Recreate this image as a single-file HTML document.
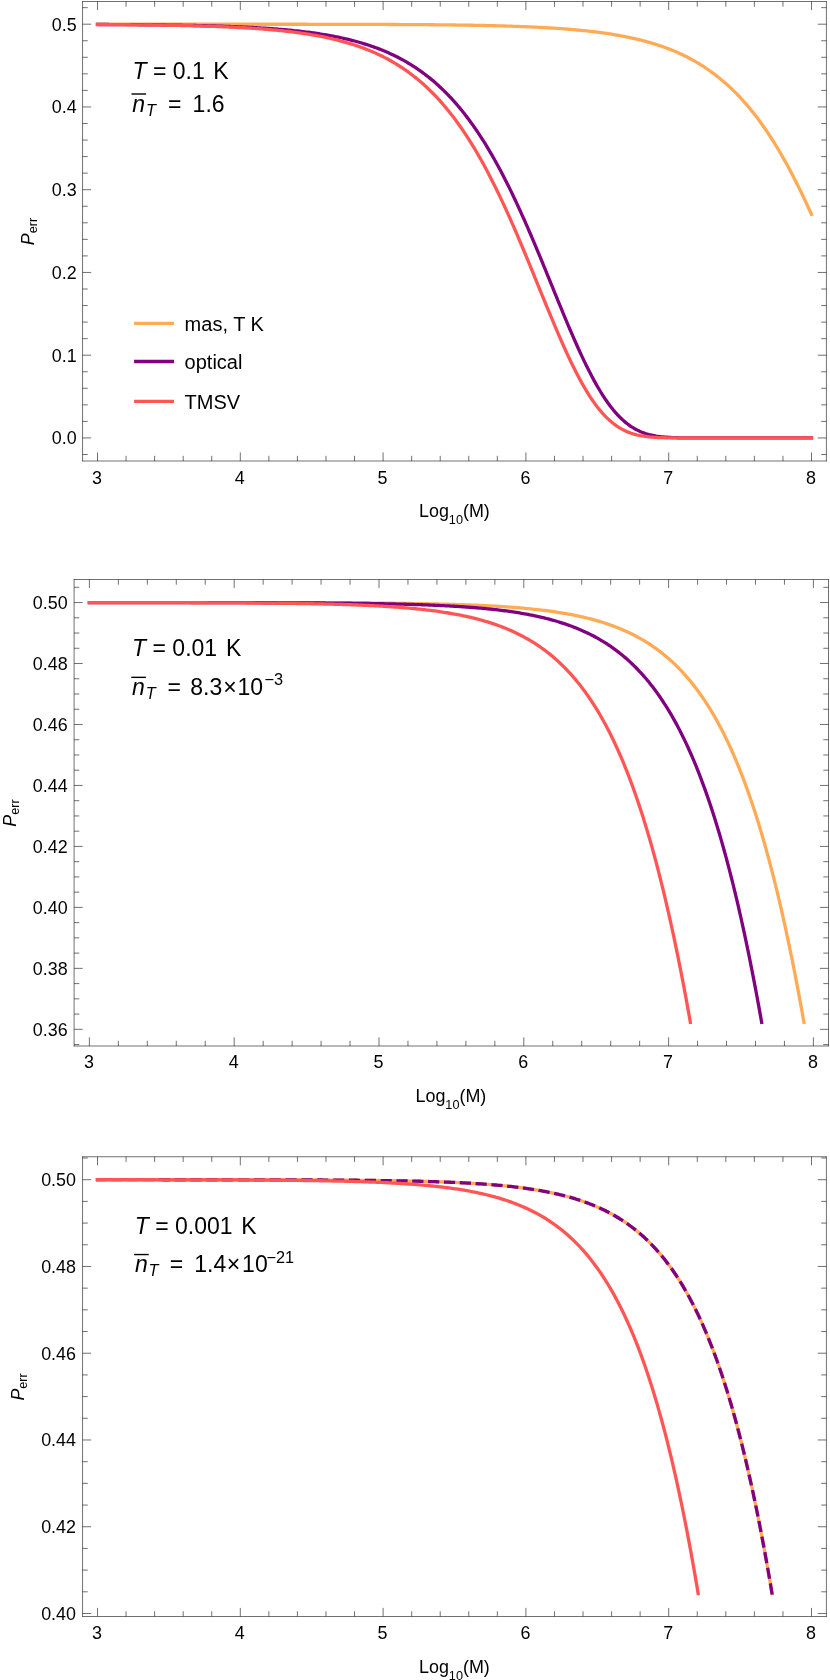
<!DOCTYPE html>
<html><head><meta charset="utf-8"><title>P_err vs Log10(M)</title>
<style>
html,body{margin:0;padding:0;background:#fff;}
svg{display:block;will-change:transform;}
text{font-family:"Liberation Sans",sans-serif;fill:#000;}
</style></head><body>
<svg width="830" height="1680" viewBox="0 0 830 1680">
<rect width="830" height="1680" fill="#fff"/>
<g>
<path d="M97.5 24.2L99.29 24.2L101.07 24.2L102.86 24.2L104.64 24.2L106.42 24.2L108.21 24.2L109.99 24.2L111.78 24.2L113.56 24.2L115.35 24.2L117.14 24.2L118.92 24.2L120.71 24.2L122.49 24.2L124.28 24.2L126.06 24.2L127.84 24.2L129.63 24.2L131.41 24.2L133.2 24.2L134.99 24.2L136.77 24.2L138.56 24.2L140.34 24.21L142.12 24.21L143.91 24.21L145.69 24.21L147.48 24.21L149.26 24.21L151.05 24.21L152.84 24.21L154.62 24.21L156.41 24.21L158.19 24.21L159.98 24.21L161.76 24.21L163.54 24.21L165.33 24.21L167.11 24.21L168.9 24.21L170.69 24.21L172.47 24.21L174.26 24.21L176.04 24.21L177.82 24.21L179.61 24.21L181.39 24.21L183.18 24.21L184.96 24.21L186.75 24.21L188.54 24.21L190.32 24.21L192.11 24.21L193.89 24.21L195.68 24.21L197.46 24.21L199.25 24.21L201.03 24.21L202.81 24.21L204.6 24.21L206.39 24.21L208.17 24.22L209.96 24.22L211.74 24.22L213.53 24.22L215.31 24.22L217.09 24.22L218.88 24.22L220.66 24.22L222.45 24.22L224.24 24.22L226.02 24.22L227.81 24.22L229.59 24.22L231.38 24.22L233.16 24.22L234.94 24.22L236.73 24.22L238.51 24.22L240.3 24.23L242.09 24.23L243.87 24.23L245.65 24.23L247.44 24.23L249.23 24.23L251.01 24.23L252.8 24.23L254.58 24.23L256.37 24.23L258.15 24.23L259.94 24.23L261.72 24.24L263.5 24.24L265.29 24.24L267.08 24.24L268.86 24.24L270.65 24.24L272.43 24.24L274.21 24.24L276 24.25L277.79 24.25L279.57 24.25L281.35 24.25L283.14 24.25L284.93 24.25L286.71 24.25L288.5 24.26L290.28 24.26L292.06 24.26L293.85 24.26L295.64 24.26L297.42 24.26L299.2 24.27L300.99 24.27L302.77 24.27L304.56 24.27L306.35 24.27L308.13 24.28L309.91 24.28L311.7 24.28L313.49 24.28L315.27 24.29L317.05 24.29L318.84 24.29L320.62 24.29L322.41 24.3L324.2 24.3L325.98 24.3L327.76 24.3L329.55 24.31L331.34 24.31L333.12 24.31L334.9 24.32L336.69 24.32L338.48 24.32L340.26 24.33L342.05 24.33L343.83 24.34L345.62 24.34L347.4 24.34L349.19 24.35L350.97 24.35L352.75 24.36L354.54 24.36L356.33 24.37L358.11 24.37L359.9 24.38L361.68 24.38L363.46 24.39L365.25 24.39L367.04 24.4L368.82 24.4L370.6 24.41L372.39 24.41L374.18 24.42L375.96 24.43L377.75 24.43L379.53 24.44L381.31 24.45L383.1 24.45L384.89 24.46L386.67 24.47L388.45 24.48L390.24 24.49L392.03 24.49L393.81 24.5L395.6 24.51L397.38 24.52L399.17 24.53L400.95 24.54L402.74 24.55L404.52 24.56L406.3 24.57L408.09 24.58L409.88 24.59L411.66 24.6L413.45 24.62L415.23 24.63L417.01 24.64L418.8 24.65L420.59 24.67L422.37 24.68L424.15 24.69L425.94 24.71L427.73 24.72L429.51 24.74L431.3 24.75L433.08 24.77L434.87 24.79L436.65 24.8L438.44 24.82L440.22 24.84L442 24.86L443.79 24.88L445.58 24.9L447.36 24.92L449.15 24.94L450.93 24.96L452.71 24.98L454.5 25L456.29 25.03L458.07 25.05L459.85 25.08L461.64 25.1L463.43 25.13L465.21 25.16L467 25.18L468.78 25.21L470.56 25.24L472.35 25.27L474.14 25.3L475.92 25.34L477.7 25.37L479.49 25.4L481.28 25.44L483.06 25.47L484.85 25.51L486.63 25.55L488.42 25.59L490.2 25.63L491.99 25.67L493.77 25.71L495.56 25.76L497.34 25.8L499.13 25.85L500.91 25.9L502.7 25.95L504.48 26L506.26 26.05L508.05 26.11L509.84 26.16L511.62 26.22L513.4 26.28L515.19 26.34L516.98 26.4L518.76 26.46L520.55 26.53L522.33 26.6L524.12 26.67L525.9 26.74L527.69 26.81L529.47 26.89L531.25 26.97L533.04 27.05L534.83 27.13L536.61 27.22L538.4 27.3L540.18 27.4L541.97 27.49L543.75 27.58L545.54 27.68L547.32 27.78L549.11 27.89L550.89 27.99L552.67 28.1L554.46 28.22L556.25 28.34L558.03 28.46L559.82 28.58L561.6 28.71L563.38 28.84L565.17 28.97L566.95 29.11L568.74 29.25L570.53 29.4L572.31 29.55L574.1 29.71L575.88 29.86L577.66 30.03L579.45 30.2L581.24 30.37L583.02 30.55L584.81 30.73L586.59 30.92L588.38 31.12L590.16 31.32L591.95 31.52L593.73 31.74L595.51 31.95L597.3 32.18L599.09 32.41L600.87 32.65L602.65 32.89L604.44 33.14L606.23 33.4L608.01 33.67L609.8 33.94L611.58 34.22L613.37 34.51L615.15 34.81L616.94 35.11L618.72 35.43L620.5 35.75L622.29 36.08L624.08 36.42L625.86 36.77L627.65 37.14L629.43 37.51L631.22 37.89L633 38.28L634.79 38.69L636.57 39.1L638.36 39.53L640.14 39.97L641.93 40.42L643.71 40.88L645.5 41.36L647.28 41.85L649.07 42.35L650.85 42.87L652.64 43.4L654.42 43.95L656.21 44.51L657.99 45.09L659.78 45.69L661.56 46.3L663.35 46.92L665.13 47.57L666.91 48.23L668.7 48.91L670.49 49.61L672.27 50.33L674.05 51.06L675.84 51.82L677.62 52.6L679.41 53.4L681.2 54.22L682.98 55.06L684.76 55.93L686.55 56.82L688.34 57.73L690.12 58.67L691.9 59.63L693.69 60.62L695.48 61.63L697.26 62.67L699.05 63.74L700.83 64.84L702.62 65.96L704.4 67.12L706.19 68.3L707.97 69.51L709.75 70.76L711.54 72.04L713.33 73.35L715.11 74.69L716.9 76.07L718.68 77.48L720.47 78.93L722.25 80.42L724.04 81.94L725.82 83.5L727.61 85.09L729.39 86.73L731.18 88.41L732.96 90.12L734.75 91.88L736.53 93.68L738.32 95.52L740.1 97.41L741.89 99.34L743.67 101.32L745.46 103.34L747.24 105.41L749.03 107.52L750.81 109.68L752.6 111.9L754.38 114.16L756.17 116.47L757.95 118.83L759.74 121.24L761.52 123.7L763.3 126.21L765.09 128.78L766.88 131.4L768.66 134.07L770.45 136.8L772.23 139.58L774.01 142.41L775.8 145.3L777.59 148.25L779.37 151.25L781.15 154.3L782.94 157.41L784.73 160.57L786.51 163.79L788.3 167.07L790.08 170.4L791.87 173.78L793.65 177.22L795.44 180.71L797.22 184.26L799 187.86L800.79 191.51L802.58 195.21L804.36 198.96L806.15 202.76L807.93 206.61L809.72 210.5L811.5 214.44" fill="none" stroke="#FFAA55" stroke-width="3.3" stroke-linecap="square" stroke-linejoin="round"/>
<path d="M97.5 24.47L99.29 24.48L101.07 24.49L102.86 24.5L104.64 24.51L106.42 24.51L108.21 24.52L109.99 24.53L111.78 24.54L113.56 24.55L115.35 24.56L117.14 24.57L118.92 24.58L120.71 24.6L122.49 24.61L124.28 24.62L126.06 24.63L127.84 24.64L129.63 24.66L131.41 24.67L133.2 24.68L134.99 24.7L136.77 24.71L138.56 24.73L140.34 24.74L142.12 24.76L143.91 24.77L145.69 24.79L147.48 24.81L149.26 24.83L151.05 24.84L152.84 24.86L154.62 24.88L156.41 24.9L158.19 24.92L159.98 24.94L161.76 24.97L163.54 24.99L165.33 25.01L167.11 25.04L168.9 25.06L170.69 25.08L172.47 25.11L174.26 25.14L176.04 25.16L177.82 25.19L179.61 25.22L181.39 25.25L183.18 25.28L184.96 25.31L186.75 25.35L188.54 25.38L190.32 25.41L192.11 25.45L193.89 25.49L195.68 25.52L197.46 25.56L199.25 25.6L201.03 25.64L202.81 25.68L204.6 25.73L206.39 25.77L208.17 25.82L209.96 25.86L211.74 25.91L213.53 25.96L215.31 26.01L217.09 26.07L218.88 26.12L220.66 26.18L222.45 26.24L224.24 26.29L226.02 26.36L227.81 26.42L229.59 26.48L231.38 26.55L233.16 26.62L234.94 26.69L236.73 26.76L238.51 26.84L240.3 26.91L242.09 26.99L243.87 27.07L245.65 27.16L247.44 27.24L249.23 27.33L251.01 27.42L252.8 27.51L254.58 27.61L256.37 27.71L258.15 27.81L259.94 27.92L261.72 28.03L263.5 28.14L265.29 28.25L267.08 28.37L268.86 28.49L270.65 28.61L272.43 28.74L274.21 28.87L276 29.01L277.79 29.15L279.57 29.29L281.35 29.44L283.14 29.59L284.93 29.75L286.71 29.91L288.5 30.08L290.28 30.25L292.06 30.42L293.85 30.6L295.64 30.79L297.42 30.98L299.2 31.17L300.99 31.38L302.77 31.58L304.56 31.8L306.35 32.02L308.13 32.24L309.91 32.48L311.7 32.72L313.49 32.96L315.27 33.21L317.05 33.47L318.84 33.74L320.62 34.02L322.41 34.3L324.2 34.59L325.98 34.89L327.76 35.2L329.55 35.52L331.34 35.84L333.12 36.18L334.9 36.52L336.69 36.88L338.48 37.24L340.26 37.61L342.05 38L343.83 38.4L345.62 38.8L347.4 39.22L349.19 39.65L350.97 40.09L352.75 40.55L354.54 41.02L356.33 41.5L358.11 41.99L359.9 42.5L361.68 43.02L363.46 43.56L365.25 44.11L367.04 44.68L368.82 45.26L370.6 45.86L372.39 46.47L374.18 47.1L375.96 47.75L377.75 48.42L379.53 49.11L381.31 49.81L383.1 50.53L384.89 51.28L386.67 52.04L388.45 52.82L390.24 53.63L392.03 54.46L393.81 55.31L395.6 56.18L397.38 57.07L399.17 57.99L400.95 58.94L402.74 59.91L404.52 60.9L406.3 61.92L408.09 62.97L409.88 64.05L411.66 65.15L413.45 66.28L415.23 67.45L417.01 68.64L418.8 69.86L420.59 71.12L422.37 72.4L424.15 73.72L425.94 75.08L427.73 76.46L429.51 77.89L431.3 79.35L433.08 80.84L434.87 82.37L436.65 83.94L438.44 85.55L440.22 87.2L442 88.89L443.79 90.61L445.58 92.38L447.36 94.2L449.15 96.05L450.93 97.95L452.71 99.89L454.5 101.88L456.29 103.92L458.07 106L459.85 108.13L461.64 110.3L463.43 112.53L465.21 114.8L467 117.13L468.78 119.5L470.56 121.92L472.35 124.4L474.14 126.93L475.92 129.51L477.7 132.15L479.49 134.83L481.28 137.57L483.06 140.37L484.85 143.22L486.63 146.13L488.42 149.09L490.2 152.1L491.99 155.17L493.77 158.3L495.56 161.48L497.34 164.71L499.13 168L500.91 171.35L502.7 174.75L504.48 178.2L506.26 181.71L508.05 185.27L509.84 188.88L511.62 192.54L513.4 196.26L515.19 200.02L516.98 203.84L518.76 207.7L520.55 211.6L522.33 215.56L524.12 219.55L525.9 223.59L527.69 227.67L529.47 231.78L531.25 235.93L533.04 240.12L534.83 244.33L536.61 248.58L538.4 252.85L540.18 257.15L541.97 261.47L543.75 265.8L545.54 270.16L547.32 274.52L549.11 278.89L550.89 283.27L552.67 287.65L554.46 292.03L556.25 296.41L558.03 300.77L559.82 305.12L561.6 309.46L563.38 313.77L565.17 318.06L566.95 322.32L568.74 326.54L570.53 330.73L572.31 334.88L574.1 338.98L575.88 343.03L577.66 347.02L579.45 350.96L581.24 354.83L583.02 358.63L584.81 362.37L586.59 366.03L588.38 369.61L590.16 373.11L591.95 376.53L593.73 379.86L595.51 383.09L597.3 386.23L599.09 389.28L600.87 392.23L602.65 395.08L604.44 397.82L606.23 400.47L608.01 403.01L609.8 405.44L611.58 407.77L613.37 409.99L615.15 412.1L616.94 414.11L618.72 416.02L620.5 417.82L622.29 419.52L624.08 421.12L625.86 422.63L627.65 424.03L629.43 425.34L631.22 426.57L633 427.7L634.79 428.75L636.57 429.72L638.36 430.61L640.14 431.42L641.93 432.17L643.71 432.84L645.5 433.46L647.28 434.02L649.07 434.52L650.85 434.96L652.64 435.36L654.42 435.72L656.21 436.04L657.99 436.31L659.78 436.56L661.56 436.77L663.35 436.96L665.13 437.12L666.91 437.26L668.7 437.37L670.49 437.47L672.27 437.56L674.05 437.63L675.84 437.69L677.62 437.74L679.41 437.78L681.2 437.82L682.98 437.84L684.76 437.87L686.55 437.89L688.34 437.9L690.12 437.91L691.9 437.92L693.69 437.93L695.48 437.93L697.26 437.94L699.05 437.94L700.83 437.94L702.62 437.95L704.4 437.95L706.19 437.95L707.97 437.95L709.75 437.95L711.54 437.95L713.33 437.95L715.11 437.95L716.9 437.95L718.68 437.95L720.47 437.95L722.25 437.95L724.04 437.95L725.82 437.95L727.61 437.95L729.39 437.95L731.18 437.95L732.96 437.95L734.75 437.95L736.53 437.95L738.32 437.95L740.1 437.95L741.89 437.95L743.67 437.95L745.46 437.95L747.24 437.95L749.03 437.95L750.81 437.95L752.6 437.95L754.38 437.95L756.17 437.95L757.95 437.95L759.74 437.95L761.52 437.95L763.3 437.95L765.09 437.95L766.88 437.95L768.66 437.95L770.45 437.95L772.23 437.95L774.01 437.95L775.8 437.95L777.59 437.95L779.37 437.95L781.15 437.95L782.94 437.95L784.73 437.95L786.51 437.95L788.3 437.95L790.08 437.95L791.87 437.95L793.65 437.95L795.44 437.95L797.22 437.95L799 437.95L800.79 437.95L802.58 437.95L804.36 437.95L806.15 437.95L807.93 437.95L809.72 437.95L811.5 437.95" fill="none" stroke="#800080" stroke-width="3.3" stroke-linecap="square" stroke-linejoin="round"/>
<path d="M97.5 24.54L99.29 24.55L101.07 24.56L102.86 24.57L104.64 24.58L106.42 24.59L108.21 24.6L109.99 24.61L111.78 24.63L113.56 24.64L115.35 24.65L117.14 24.66L118.92 24.68L120.71 24.69L122.49 24.71L124.28 24.72L126.06 24.74L127.84 24.75L129.63 24.77L131.41 24.79L133.2 24.8L134.99 24.82L136.77 24.84L138.56 24.86L140.34 24.88L142.12 24.9L143.91 24.92L145.69 24.94L147.48 24.96L149.26 24.98L151.05 25L152.84 25.03L154.62 25.05L156.41 25.08L158.19 25.1L159.98 25.13L161.76 25.15L163.54 25.18L165.33 25.21L167.11 25.24L168.9 25.27L170.69 25.3L172.47 25.33L174.26 25.37L176.04 25.4L177.82 25.44L179.61 25.47L181.39 25.51L183.18 25.55L184.96 25.59L186.75 25.63L188.54 25.67L190.32 25.71L192.11 25.75L193.89 25.8L195.68 25.85L197.46 25.89L199.25 25.94L201.03 26L202.81 26.05L204.6 26.1L206.39 26.16L208.17 26.21L209.96 26.27L211.74 26.33L213.53 26.39L215.31 26.46L217.09 26.52L218.88 26.59L220.66 26.66L222.45 26.73L224.24 26.81L226.02 26.88L227.81 26.96L229.59 27.04L231.38 27.12L233.16 27.21L234.94 27.3L236.73 27.39L238.51 27.48L240.3 27.57L242.09 27.67L243.87 27.77L245.65 27.88L247.44 27.98L249.23 28.09L251.01 28.21L252.8 28.32L254.58 28.44L256.37 28.57L258.15 28.69L259.94 28.82L261.72 28.96L263.5 29.1L265.29 29.24L267.08 29.39L268.86 29.54L270.65 29.69L272.43 29.85L274.21 30.01L276 30.18L277.79 30.36L279.57 30.53L281.35 30.72L283.14 30.91L284.93 31.1L286.71 31.3L288.5 31.51L290.28 31.72L292.06 31.93L293.85 32.16L295.64 32.39L297.42 32.62L299.2 32.87L300.99 33.12L302.77 33.38L304.56 33.64L306.35 33.91L308.13 34.19L309.91 34.48L311.7 34.78L313.49 35.08L315.27 35.4L317.05 35.72L318.84 36.05L320.62 36.39L322.41 36.74L324.2 37.1L325.98 37.47L327.76 37.85L329.55 38.25L331.34 38.65L333.12 39.06L334.9 39.49L336.69 39.93L338.48 40.38L340.26 40.84L342.05 41.32L343.83 41.8L345.62 42.31L347.4 42.82L349.19 43.35L350.97 43.9L352.75 44.46L354.54 45.04L356.33 45.63L358.11 46.24L359.9 46.86L361.68 47.51L363.46 48.17L365.25 48.85L367.04 49.54L368.82 50.26L370.6 51L372.39 51.75L374.18 52.53L375.96 53.33L377.75 54.14L379.53 54.99L381.31 55.85L383.1 56.74L384.89 57.65L386.67 58.58L388.45 59.54L390.24 60.53L392.03 61.54L393.81 62.58L395.6 63.64L397.38 64.73L399.17 65.86L400.95 67.01L402.74 68.19L404.52 69.4L406.3 70.64L408.09 71.92L409.88 73.23L411.66 74.57L413.45 75.94L415.23 77.35L417.01 78.8L418.8 80.28L420.59 81.79L422.37 83.35L424.15 84.94L425.94 86.58L427.73 88.25L429.51 89.96L431.3 91.72L433.08 93.51L434.87 95.35L436.65 97.23L438.44 99.16L440.22 101.13L442 103.15L443.79 105.21L445.58 107.32L447.36 109.48L449.15 111.69L450.93 113.94L452.71 116.25L454.5 118.61L456.29 121.01L458.07 123.47L459.85 125.98L461.64 128.54L463.43 131.15L465.21 133.82L467 136.54L468.78 139.32L470.56 142.15L472.35 145.03L474.14 147.97L475.92 150.97L477.7 154.01L479.49 157.12L481.28 160.28L483.06 163.49L484.85 166.76L486.63 170.09L488.42 173.47L490.2 176.9L491.99 180.39L493.77 183.93L495.56 187.52L497.34 191.17L499.13 194.86L500.91 198.61L502.7 202.4L504.48 206.25L506.26 210.14L508.05 214.07L509.84 218.05L511.62 222.07L513.4 226.14L515.19 230.24L516.98 234.37L518.76 238.55L520.55 242.75L522.33 246.99L524.12 251.25L525.9 255.54L527.69 259.85L529.47 264.18L531.25 268.53L533.04 272.89L534.83 277.26L536.61 281.63L538.4 286.01L540.18 290.39L541.97 294.77L543.75 299.14L545.54 303.5L547.32 307.84L549.11 312.16L550.89 316.46L552.67 320.73L554.46 324.97L556.25 329.17L558.03 333.33L559.82 337.45L561.6 341.52L563.38 345.53L565.17 349.49L566.95 353.39L568.74 357.22L570.53 360.98L572.31 364.67L574.1 368.28L575.88 371.81L577.66 375.26L579.45 378.62L581.24 381.89L583.02 385.07L584.81 388.15L586.59 391.14L588.38 394.02L590.16 396.81L591.95 399.49L593.73 402.07L595.51 404.54L597.3 406.91L599.09 409.17L600.87 411.32L602.65 413.37L604.44 415.32L606.23 417.16L608.01 418.9L609.8 420.54L611.58 422.07L613.37 423.52L615.15 424.86L616.94 426.12L618.72 427.29L620.5 428.37L622.29 429.36L624.08 430.28L625.86 431.13L627.65 431.9L629.43 432.6L631.22 433.24L633 433.81L634.79 434.33L636.57 434.8L638.36 435.22L640.14 435.59L641.93 435.92L643.71 436.21L645.5 436.47L647.28 436.69L649.07 436.89L650.85 437.06L652.64 437.21L654.42 437.33L656.21 437.44L657.99 437.53L659.78 437.61L661.56 437.67L663.35 437.72L665.13 437.77L666.91 437.81L668.7 437.84L670.49 437.86L672.27 437.88L674.05 437.9L675.84 437.91L677.62 437.92L679.41 437.93L681.2 437.93L682.98 437.94L684.76 437.94L686.55 437.94L688.34 437.94L690.12 437.95L691.9 437.95L693.69 437.95L695.48 437.95L697.26 437.95L699.05 437.95L700.83 437.95L702.62 437.95L704.4 437.95L706.19 437.95L707.97 437.95L709.75 437.95L711.54 437.95L713.33 437.95L715.11 437.95L716.9 437.95L718.68 437.95L720.47 437.95L722.25 437.95L724.04 437.95L725.82 437.95L727.61 437.95L729.39 437.95L731.18 437.95L732.96 437.95L734.75 437.95L736.53 437.95L738.32 437.95L740.1 437.95L741.89 437.95L743.67 437.95L745.46 437.95L747.24 437.95L749.03 437.95L750.81 437.95L752.6 437.95L754.38 437.95L756.17 437.95L757.95 437.95L759.74 437.95L761.52 437.95L763.3 437.95L765.09 437.95L766.88 437.95L768.66 437.95L770.45 437.95L772.23 437.95L774.01 437.95L775.8 437.95L777.59 437.95L779.37 437.95L781.15 437.95L782.94 437.95L784.73 437.95L786.51 437.95L788.3 437.95L790.08 437.95L791.87 437.95L793.65 437.95L795.44 437.95L797.22 437.95L799 437.95L800.79 437.95L802.58 437.95L804.36 437.95L806.15 437.95L807.93 437.95L809.72 437.95L811.5 437.95" fill="none" stroke="#FF5555" stroke-width="3.3" stroke-linecap="square" stroke-linejoin="round"/>
<path d="M82.25 1.5L826.7 1.5M82.25 461L826.7 461M82.55 1.2L82.55 461.3M826.4 1.2L826.4 461.3M97.5 461L97.5 452.4M97.5 1.5L97.5 10.1M126.06 461L126.06 455.8M126.06 1.5L126.06 6.7M154.62 461L154.62 455.8M154.62 1.5L154.62 6.7M183.18 461L183.18 455.8M183.18 1.5L183.18 6.7M211.74 461L211.74 455.8M211.74 1.5L211.74 6.7M240.3 461L240.3 452.4M240.3 1.5L240.3 10.1M268.86 461L268.86 455.8M268.86 1.5L268.86 6.7M297.42 461L297.42 455.8M297.42 1.5L297.42 6.7M325.98 461L325.98 455.8M325.98 1.5L325.98 6.7M354.54 461L354.54 455.8M354.54 1.5L354.54 6.7M383.1 461L383.1 452.4M383.1 1.5L383.1 10.1M411.66 461L411.66 455.8M411.66 1.5L411.66 6.7M440.22 461L440.22 455.8M440.22 1.5L440.22 6.7M468.78 461L468.78 455.8M468.78 1.5L468.78 6.7M497.34 461L497.34 455.8M497.34 1.5L497.34 6.7M525.9 461L525.9 452.4M525.9 1.5L525.9 10.1M554.46 461L554.46 455.8M554.46 1.5L554.46 6.7M583.02 461L583.02 455.8M583.02 1.5L583.02 6.7M611.58 461L611.58 455.8M611.58 1.5L611.58 6.7M640.14 461L640.14 455.8M640.14 1.5L640.14 6.7M668.7 461L668.7 452.4M668.7 1.5L668.7 10.1M697.26 461L697.26 455.8M697.26 1.5L697.26 6.7M725.82 461L725.82 455.8M725.82 1.5L725.82 6.7M754.38 461L754.38 455.8M754.38 1.5L754.38 6.7M782.94 461L782.94 455.8M782.94 1.5L782.94 6.7M811.5 461L811.5 452.4M811.5 1.5L811.5 10.1M82.55 454.5L87.75 454.5M826.4 454.5L821.2 454.5M82.55 437.95L91.15 437.95M826.4 437.95L817.8 437.95M82.55 421.4L87.75 421.4M826.4 421.4L821.2 421.4M82.55 404.85L87.75 404.85M826.4 404.85L821.2 404.85M82.55 388.3L87.75 388.3M826.4 388.3L821.2 388.3M82.55 371.75L87.75 371.75M826.4 371.75L821.2 371.75M82.55 355.2L91.15 355.2M826.4 355.2L817.8 355.2M82.55 338.65L87.75 338.65M826.4 338.65L821.2 338.65M82.55 322.1L87.75 322.1M826.4 322.1L821.2 322.1M82.55 305.55L87.75 305.55M826.4 305.55L821.2 305.55M82.55 289L87.75 289M826.4 289L821.2 289M82.55 272.45L91.15 272.45M826.4 272.45L817.8 272.45M82.55 255.9L87.75 255.9M826.4 255.9L821.2 255.9M82.55 239.35L87.75 239.35M826.4 239.35L821.2 239.35M82.55 222.8L87.75 222.8M826.4 222.8L821.2 222.8M82.55 206.25L87.75 206.25M826.4 206.25L821.2 206.25M82.55 189.7L91.15 189.7M826.4 189.7L817.8 189.7M82.55 173.15L87.75 173.15M826.4 173.15L821.2 173.15M82.55 156.6L87.75 156.6M826.4 156.6L821.2 156.6M82.55 140.05L87.75 140.05M826.4 140.05L821.2 140.05M82.55 123.5L87.75 123.5M826.4 123.5L821.2 123.5M82.55 106.95L91.15 106.95M826.4 106.95L817.8 106.95M82.55 90.4L87.75 90.4M826.4 90.4L821.2 90.4M82.55 73.85L87.75 73.85M826.4 73.85L821.2 73.85M82.55 57.3L87.75 57.3M826.4 57.3L821.2 57.3M82.55 40.75L87.75 40.75M826.4 40.75L821.2 40.75M82.55 24.2L91.15 24.2M826.4 24.2L817.8 24.2M82.55 7.65L87.75 7.65M826.4 7.65L821.2 7.65" fill="none" stroke="#111111" stroke-width="0.6"/>
<text x="76.6" y="444.35" font-size="17.9" text-anchor="end">0.0</text>
<text x="76.6" y="361.6" font-size="17.9" text-anchor="end">0.1</text>
<text x="76.6" y="278.85" font-size="17.9" text-anchor="end">0.2</text>
<text x="76.6" y="196.1" font-size="17.9" text-anchor="end">0.3</text>
<text x="76.6" y="113.35" font-size="17.9" text-anchor="end">0.4</text>
<text x="76.6" y="30.6" font-size="17.9" text-anchor="end">0.5</text>
<text x="97" y="483.6" font-size="17.9" text-anchor="middle">3</text>
<text x="239.8" y="483.6" font-size="17.9" text-anchor="middle">4</text>
<text x="382.6" y="483.6" font-size="17.9" text-anchor="middle">5</text>
<text x="525.4" y="483.6" font-size="17.9" text-anchor="middle">6</text>
<text x="668.2" y="483.6" font-size="17.9" text-anchor="middle">7</text>
<text x="811" y="483.6" font-size="17.9" text-anchor="middle">8</text>
<text x="419" y="517.3" font-size="17.9">Log<tspan font-size="12.7" dy="6.7">10</tspan><tspan dy="-6.7">(M)</tspan></text>
<text transform="translate(34 245.25) rotate(-90)" font-size="17.9"><tspan font-style="italic">P</tspan><tspan font-size="12.7" dy="2.7">err</tspan></text>
<text x="132.5" y="78.85" font-size="23.0"><tspan font-style="italic">T</tspan> = 0.1</text>
<text x="213.3" y="78.85" font-size="23.0">K</text>
<text x="132.3" y="111.55" font-size="23.0" font-style="italic">n</text>
<path d="M131.5 94H146.1" stroke="#000" stroke-width="1.4" fill="none"/>
<text x="146" y="115.75" font-size="16.3" font-style="italic">T</text>
<text x="168" y="111.85" font-size="23.0">=</text>
<text x="192.6" y="111.55" font-size="23.0">1.6</text>
<path d="M134.1 323.4H174" stroke="#FFAA55" stroke-width="3.3" fill="none"/>
<text x="184.6" y="330.55" font-size="20.0" text-anchor="start">mas, T K</text>
<path d="M134.1 361.5H174" stroke="#800080" stroke-width="3.3" fill="none"/>
<text x="184.6" y="368.65" font-size="20.0" text-anchor="start">optical</text>
<path d="M134.1 401.4H174" stroke="#FF5555" stroke-width="3.3" fill="none"/>
<text x="184.6" y="408.55" font-size="20.0" text-anchor="start">TMSV</text>
</g>
<g>
<path d="M89.4 602.56L91.19 602.56L92.97 602.56L94.76 602.56L96.55 602.56L98.33 602.56L100.12 602.56L101.9 602.56L103.69 602.56L105.48 602.56L107.26 602.56L109.05 602.56L110.84 602.56L112.62 602.56L114.41 602.56L116.19 602.56L117.98 602.56L119.77 602.56L121.55 602.56L123.34 602.56L125.13 602.56L126.91 602.56L128.7 602.56L130.49 602.56L132.27 602.56L134.06 602.56L135.84 602.56L137.63 602.56L139.42 602.56L141.2 602.56L142.99 602.56L144.78 602.56L146.56 602.56L148.35 602.56L150.13 602.56L151.92 602.57L153.71 602.57L155.49 602.57L157.28 602.57L159.07 602.57L160.85 602.57L162.64 602.57L164.43 602.57L166.21 602.57L168 602.57L169.78 602.57L171.57 602.57L173.36 602.57L175.14 602.57L176.93 602.57L178.72 602.57L180.5 602.57L182.29 602.58L184.07 602.58L185.86 602.58L187.65 602.58L189.43 602.58L191.22 602.58L193.01 602.58L194.79 602.58L196.58 602.58L198.37 602.58L200.15 602.58L201.94 602.58L203.72 602.59L205.51 602.59L207.3 602.59L209.08 602.59L210.87 602.59L212.66 602.59L214.44 602.59L216.23 602.59L218.02 602.59L219.8 602.6L221.59 602.6L223.37 602.6L225.16 602.6L226.95 602.6L228.73 602.6L230.52 602.6L232.31 602.61L234.09 602.61L235.88 602.61L237.66 602.61L239.45 602.61L241.24 602.61L243.02 602.62L244.81 602.62L246.6 602.62L248.38 602.62L250.17 602.62L251.96 602.63L253.74 602.63L255.53 602.63L257.31 602.63L259.1 602.63L260.89 602.64L262.67 602.64L264.46 602.64L266.25 602.65L268.03 602.65L269.82 602.65L271.6 602.65L273.39 602.66L275.18 602.66L276.96 602.66L278.75 602.67L280.54 602.67L282.32 602.67L284.11 602.68L285.9 602.68L287.68 602.68L289.47 602.69L291.25 602.69L293.04 602.7L294.83 602.7L296.61 602.7L298.4 602.71L300.19 602.71L301.97 602.72L303.76 602.72L305.54 602.73L307.33 602.73L309.12 602.74L310.9 602.74L312.69 602.75L314.48 602.75L316.26 602.76L318.05 602.77L319.84 602.77L321.62 602.78L323.41 602.79L325.19 602.79L326.98 602.8L328.77 602.81L330.55 602.81L332.34 602.82L334.13 602.83L335.91 602.84L337.7 602.85L339.48 602.85L341.27 602.86L343.06 602.87L344.84 602.88L346.63 602.89L348.42 602.9L350.2 602.91L351.99 602.92L353.78 602.93L355.56 602.94L357.35 602.95L359.13 602.97L360.92 602.98L362.71 602.99L364.49 603L366.28 603.02L368.07 603.03L369.85 603.04L371.64 603.06L373.42 603.07L375.21 603.09L377 603.1L378.78 603.12L380.57 603.14L382.36 603.15L384.14 603.17L385.93 603.19L387.72 603.21L389.5 603.22L391.29 603.24L393.07 603.26L394.86 603.28L396.65 603.31L398.43 603.33L400.22 603.35L402.01 603.37L403.79 603.4L405.58 603.42L407.37 603.45L409.15 603.47L410.94 603.5L412.72 603.53L414.51 603.55L416.3 603.58L418.08 603.61L419.87 603.64L421.66 603.67L423.44 603.71L425.23 603.74L427.01 603.77L428.8 603.81L430.59 603.85L432.37 603.88L434.16 603.92L435.95 603.96L437.73 604L439.52 604.04L441.31 604.09L443.09 604.13L444.88 604.18L446.66 604.22L448.45 604.27L450.24 604.32L452.02 604.37L453.81 604.42L455.6 604.48L457.38 604.53L459.17 604.59L460.95 604.65L462.74 604.71L464.53 604.77L466.31 604.84L468.1 604.9L469.89 604.97L471.67 605.04L473.46 605.11L475.25 605.19L477.03 605.26L478.82 605.34L480.6 605.42L482.39 605.5L484.18 605.59L485.96 605.67L487.75 605.76L489.54 605.86L491.32 605.95L493.11 606.05L494.89 606.15L496.68 606.25L498.47 606.36L500.25 606.47L502.04 606.58L503.83 606.7L505.61 606.82L507.4 606.94L509.19 607.07L510.97 607.2L512.76 607.33L514.54 607.47L516.33 607.61L518.12 607.76L519.9 607.91L521.69 608.06L523.48 608.22L525.26 608.38L527.05 608.55L528.83 608.72L530.62 608.9L532.41 609.08L534.19 609.27L535.98 609.46L537.77 609.66L539.55 609.87L541.34 610.08L543.13 610.29L544.91 610.51L546.7 610.74L548.48 610.98L550.27 611.22L552.06 611.47L553.84 611.73L555.63 611.99L557.42 612.26L559.2 612.54L560.99 612.83L562.77 613.12L564.56 613.43L566.35 613.74L568.13 614.06L569.92 614.39L571.71 614.73L573.49 615.08L575.28 615.44L577.07 615.81L578.85 616.19L580.64 616.58L582.42 616.98L584.21 617.39L586 617.82L587.78 618.26L589.57 618.71L591.36 619.17L593.14 619.65L594.93 620.14L596.71 620.64L598.5 621.16L600.29 621.69L602.07 622.24L603.86 622.8L605.65 623.38L607.43 623.98L609.22 624.59L611.01 625.22L612.79 625.87L614.58 626.54L616.36 627.22L618.15 627.93L619.94 628.65L621.72 629.4L623.51 630.16L625.3 630.95L627.08 631.76L628.87 632.6L630.66 633.45L632.44 634.33L634.23 635.24L636.01 636.17L637.8 637.13L639.59 638.11L641.37 639.13L643.16 640.17L644.95 641.24L646.73 642.34L648.52 643.47L650.3 644.63L652.09 645.83L653.88 647.05L655.66 648.32L657.45 649.61L659.24 650.95L661.02 652.32L662.81 653.73L664.6 655.18L666.38 656.67L668.17 658.2L669.95 659.77L671.74 661.39L673.53 663.05L675.31 664.76L677.1 666.51L678.89 668.31L680.67 670.17L682.46 672.07L684.24 674.02L686.03 676.03L687.82 678.1L689.6 680.22L691.39 682.4L693.18 684.63L694.96 686.93L696.75 689.29L698.54 691.72L700.32 694.21L702.11 696.77L703.89 699.39L705.68 702.09L707.47 704.86L709.25 707.7L711.04 710.62L712.83 713.62L714.61 716.7L716.4 719.86L718.18 723.1L719.97 726.43L721.76 729.84L723.54 733.35L725.33 736.95L727.12 740.64L728.9 744.42L730.69 748.31L732.48 752.3L734.26 756.39L736.05 760.58L737.83 764.88L739.62 769.29L741.41 773.82L743.19 778.46L744.98 783.21L746.77 788.09L748.55 793.09L750.34 798.21L752.12 803.46L753.91 808.83L755.7 814.34L757.48 819.99L759.27 825.77L761.06 831.69L762.84 837.76L764.63 843.97L766.42 850.33L768.2 856.83L769.99 863.5L771.77 870.31L773.56 877.29L775.35 884.42L777.13 891.72L778.92 899.18L780.71 906.81L782.49 914.62L784.28 922.59L786.06 930.74L787.85 939.07L789.64 947.57L791.42 956.26L793.21 965.13L795 974.19L796.78 983.43L798.57 992.87L800.36 1002.49L802.14 1012.31L803.93 1022.31" fill="none" stroke="#FFAA55" stroke-width="3.3" stroke-linecap="square" stroke-linejoin="round"/>
<path d="M89.4 602.56L91.08 602.56L92.76 602.56L94.44 602.56L96.12 602.56L97.8 602.56L99.48 602.56L101.16 602.56L102.84 602.56L104.53 602.56L106.21 602.56L107.89 602.57L109.57 602.57L111.25 602.57L112.93 602.57L114.61 602.57L116.29 602.57L117.97 602.57L119.65 602.57L121.33 602.57L123.01 602.57L124.69 602.57L126.37 602.57L128.05 602.57L129.73 602.57L131.42 602.57L133.1 602.57L134.78 602.57L136.46 602.57L138.14 602.57L139.82 602.57L141.5 602.58L143.18 602.58L144.86 602.58L146.54 602.58L148.22 602.58L149.9 602.58L151.58 602.58L153.26 602.58L154.94 602.58L156.62 602.58L158.31 602.58L159.99 602.58L161.67 602.59L163.35 602.59L165.03 602.59L166.71 602.59L168.39 602.59L170.07 602.59L171.75 602.59L173.43 602.59L175.11 602.59L176.79 602.59L178.47 602.6L180.15 602.6L181.83 602.6L183.51 602.6L185.19 602.6L186.88 602.6L188.56 602.6L190.24 602.61L191.92 602.61L193.6 602.61L195.28 602.61L196.96 602.61L198.64 602.61L200.32 602.62L202 602.62L203.68 602.62L205.36 602.62L207.04 602.62L208.72 602.62L210.4 602.63L212.08 602.63L213.77 602.63L215.45 602.63L217.13 602.64L218.81 602.64L220.49 602.64L222.17 602.64L223.85 602.64L225.53 602.65L227.21 602.65L228.89 602.65L230.57 602.66L232.25 602.66L233.93 602.66L235.61 602.66L237.29 602.67L238.97 602.67L240.66 602.67L242.34 602.68L244.02 602.68L245.7 602.68L247.38 602.69L249.06 602.69L250.74 602.7L252.42 602.7L254.1 602.7L255.78 602.71L257.46 602.71L259.14 602.72L260.82 602.72L262.5 602.73L264.18 602.73L265.86 602.73L267.55 602.74L269.23 602.75L270.91 602.75L272.59 602.76L274.27 602.76L275.95 602.77L277.63 602.77L279.31 602.78L280.99 602.79L282.67 602.79L284.35 602.8L286.03 602.8L287.71 602.81L289.39 602.82L291.07 602.83L292.75 602.83L294.43 602.84L296.12 602.85L297.8 602.86L299.48 602.87L301.16 602.87L302.84 602.88L304.52 602.89L306.2 602.9L307.88 602.91L309.56 602.92L311.24 602.93L312.92 602.94L314.6 602.95L316.28 602.96L317.96 602.97L319.64 602.99L321.32 603L323.01 603.01L324.69 603.02L326.37 603.03L328.05 603.05L329.73 603.06L331.41 603.07L333.09 603.09L334.77 603.1L336.45 603.12L338.13 603.13L339.81 603.15L341.49 603.17L343.17 603.18L344.85 603.2L346.53 603.22L348.21 603.24L349.9 603.25L351.58 603.27L353.26 603.29L354.94 603.31L356.62 603.33L358.3 603.35L359.98 603.38L361.66 603.4L363.34 603.42L365.02 603.45L366.7 603.47L368.38 603.49L370.06 603.52L371.74 603.55L373.42 603.57L375.1 603.6L376.78 603.63L378.47 603.66L380.15 603.69L381.83 603.72L383.51 603.75L385.19 603.78L386.87 603.82L388.55 603.85L390.23 603.89L391.91 603.92L393.59 603.96L395.27 604L396.95 604.04L398.63 604.08L400.31 604.12L401.99 604.16L403.67 604.2L405.36 604.25L407.04 604.3L408.72 604.34L410.4 604.39L412.08 604.44L413.76 604.49L415.44 604.54L417.12 604.6L418.8 604.65L420.48 604.71L422.16 604.77L423.84 604.83L425.52 604.89L427.2 604.95L428.88 605.02L430.56 605.09L432.25 605.16L433.93 605.23L435.61 605.3L437.29 605.37L438.97 605.45L440.65 605.53L442.33 605.61L444.01 605.69L445.69 605.78L447.37 605.86L449.05 605.95L450.73 606.04L452.41 606.14L454.09 606.24L455.77 606.34L457.45 606.44L459.14 606.54L460.82 606.65L462.5 606.76L464.18 606.88L465.86 606.99L467.54 607.11L469.22 607.24L470.9 607.36L472.58 607.49L474.26 607.63L475.94 607.76L477.62 607.91L479.3 608.05L480.98 608.2L482.66 608.35L484.34 608.51L486.02 608.67L487.71 608.84L489.39 609.01L491.07 609.18L492.75 609.36L494.43 609.54L496.11 609.73L497.79 609.93L499.47 610.13L501.15 610.33L502.83 610.54L504.51 610.76L506.19 610.98L507.87 611.21L509.55 611.44L511.23 611.68L512.91 611.93L514.6 612.18L516.28 612.44L517.96 612.71L519.64 612.98L521.32 613.26L523 613.55L524.68 613.85L526.36 614.15L528.04 614.46L529.72 614.79L531.4 615.12L533.08 615.46L534.76 615.8L536.44 616.16L538.12 616.53L539.8 616.9L541.49 617.29L543.17 617.69L544.85 618.1L546.53 618.52L548.21 618.95L549.89 619.39L551.57 619.84L553.25 620.31L554.93 620.78L556.61 621.27L558.29 621.78L559.97 622.3L561.65 622.83L563.33 623.37L565.01 623.93L566.69 624.51L568.37 625.1L570.06 625.7L571.74 626.33L573.42 626.96L575.1 627.62L576.78 628.29L578.46 628.99L580.14 629.69L581.82 630.42L583.5 631.17L585.18 631.94L586.86 632.73L588.54 633.54L590.22 634.37L591.9 635.22L593.58 636.09L595.26 636.99L596.95 637.91L598.63 638.86L600.31 639.83L601.99 640.83L603.67 641.85L605.35 642.9L607.03 643.98L608.71 645.09L610.39 646.22L612.07 647.39L613.75 648.58L615.43 649.81L617.11 651.07L618.79 652.36L620.47 653.69L622.15 655.05L623.84 656.45L625.52 657.88L627.2 659.35L628.88 660.86L630.56 662.41L632.24 663.99L633.92 665.62L635.6 667.29L637.28 669.01L638.96 670.77L640.64 672.57L642.32 674.42L644 676.32L645.68 678.27L647.36 680.27L649.04 682.32L650.72 684.42L652.41 686.57L654.09 688.78L655.77 691.05L657.45 693.38L659.13 695.76L660.81 698.2L662.49 700.71L664.17 703.28L665.85 705.91L667.53 708.61L669.21 711.38L670.89 714.21L672.57 717.12L674.25 720.1L675.93 723.16L677.61 726.29L679.3 729.5L680.98 732.78L682.66 736.15L684.34 739.6L686.02 743.14L687.7 746.76L689.38 750.47L691.06 754.27L692.74 758.16L694.42 762.15L696.1 766.23L697.78 770.41L699.46 774.69L701.14 779.07L702.82 783.56L704.5 788.15L706.19 792.85L707.87 797.66L709.55 802.58L711.23 807.61L712.91 812.77L714.59 818.04L716.27 823.43L717.95 828.94L719.63 834.58L721.31 840.35L722.99 846.25L724.67 852.28L726.35 858.44L728.03 864.73L729.71 871.17L731.39 877.75L733.08 884.46L734.76 891.33L736.44 898.34L738.12 905.49L739.8 912.8L741.48 920.26L743.16 927.88L744.84 935.65L746.52 943.57L748.2 951.66L749.88 959.91L751.56 968.33L753.24 976.9L754.92 985.65L756.6 994.56L758.28 1003.64L759.96 1012.89L761.65 1022.31" fill="none" stroke="#800080" stroke-width="3.3" stroke-linecap="square" stroke-linejoin="round"/>
<path d="M89.4 602.58L90.9 602.59L92.4 602.59L93.91 602.59L95.41 602.59L96.91 602.59L98.41 602.59L99.92 602.59L101.42 602.59L102.92 602.59L104.42 602.59L105.93 602.6L107.43 602.6L108.93 602.6L110.43 602.6L111.94 602.6L113.44 602.6L114.94 602.6L116.44 602.6L117.95 602.6L119.45 602.61L120.95 602.61L122.45 602.61L123.96 602.61L125.46 602.61L126.96 602.61L128.46 602.61L129.96 602.62L131.47 602.62L132.97 602.62L134.47 602.62L135.97 602.62L137.48 602.62L138.98 602.63L140.48 602.63L141.98 602.63L143.49 602.63L144.99 602.63L146.49 602.64L147.99 602.64L149.5 602.64L151 602.64L152.5 602.64L154 602.65L155.51 602.65L157.01 602.65L158.51 602.65L160.01 602.66L161.52 602.66L163.02 602.66L164.52 602.66L166.02 602.67L167.53 602.67L169.03 602.67L170.53 602.68L172.03 602.68L173.53 602.68L175.04 602.69L176.54 602.69L178.04 602.69L179.54 602.7L181.05 602.7L182.55 602.7L184.05 602.71L185.55 602.71L187.06 602.71L188.56 602.72L190.06 602.72L191.56 602.73L193.07 602.73L194.57 602.73L196.07 602.74L197.57 602.74L199.08 602.75L200.58 602.75L202.08 602.76L203.58 602.76L205.09 602.77L206.59 602.77L208.09 602.78L209.59 602.78L211.09 602.79L212.6 602.8L214.1 602.8L215.6 602.81L217.1 602.81L218.61 602.82L220.11 602.83L221.61 602.83L223.11 602.84L224.62 602.85L226.12 602.86L227.62 602.86L229.12 602.87L230.63 602.88L232.13 602.89L233.63 602.89L235.13 602.9L236.64 602.91L238.14 602.92L239.64 602.93L241.14 602.94L242.65 602.95L244.15 602.96L245.65 602.97L247.15 602.98L248.66 602.99L250.16 603L251.66 603.01L253.16 603.02L254.66 603.03L256.17 603.04L257.67 603.05L259.17 603.07L260.67 603.08L262.18 603.09L263.68 603.1L265.18 603.12L266.68 603.13L268.19 603.15L269.69 603.16L271.19 603.18L272.69 603.19L274.2 603.21L275.7 603.22L277.2 603.24L278.7 603.25L280.21 603.27L281.71 603.29L283.21 603.31L284.71 603.33L286.22 603.34L287.72 603.36L289.22 603.38L290.72 603.4L292.22 603.42L293.73 603.44L295.23 603.47L296.73 603.49L298.23 603.51L299.74 603.53L301.24 603.56L302.74 603.58L304.24 603.61L305.75 603.63L307.25 603.66L308.75 603.69L310.25 603.71L311.76 603.74L313.26 603.77L314.76 603.8L316.26 603.83L317.77 603.86L319.27 603.89L320.77 603.93L322.27 603.96L323.78 603.99L325.28 604.03L326.78 604.06L328.28 604.1L329.79 604.14L331.29 604.18L332.79 604.22L334.29 604.26L335.79 604.3L337.3 604.34L338.8 604.38L340.3 604.43L341.8 604.47L343.31 604.52L344.81 604.57L346.31 604.61L347.81 604.66L349.32 604.72L350.82 604.77L352.32 604.82L353.82 604.88L355.33 604.93L356.83 604.99L358.33 605.05L359.83 605.11L361.34 605.17L362.84 605.23L364.34 605.3L365.84 605.37L367.35 605.43L368.85 605.5L370.35 605.57L371.85 605.65L373.35 605.72L374.86 605.8L376.36 605.88L377.86 605.96L379.36 606.04L380.87 606.12L382.37 606.21L383.87 606.3L385.37 606.39L386.88 606.48L388.38 606.58L389.88 606.67L391.38 606.77L392.89 606.88L394.39 606.98L395.89 607.09L397.39 607.2L398.9 607.31L400.4 607.42L401.9 607.54L403.4 607.66L404.91 607.79L406.41 607.91L407.91 608.04L409.41 608.17L410.91 608.31L412.42 608.45L413.92 608.59L415.42 608.74L416.92 608.89L418.43 609.04L419.93 609.2L421.43 609.36L422.93 609.52L424.44 609.69L425.94 609.86L427.44 610.04L428.94 610.22L430.45 610.4L431.95 610.59L433.45 610.78L434.95 610.98L436.46 611.19L437.96 611.39L439.46 611.61L440.96 611.83L442.47 612.05L443.97 612.28L445.47 612.51L446.97 612.75L448.48 613L449.98 613.25L451.48 613.51L452.98 613.77L454.48 614.04L455.99 614.32L457.49 614.6L458.99 614.89L460.49 615.19L462 615.5L463.5 615.81L465 616.13L466.5 616.45L468.01 616.79L469.51 617.13L471.01 617.48L472.51 617.84L474.02 618.21L475.52 618.58L477.02 618.97L478.52 619.36L480.03 619.77L481.53 620.18L483.03 620.61L484.53 621.04L486.04 621.49L487.54 621.94L489.04 622.41L490.54 622.88L492.04 623.37L493.55 623.87L495.05 624.38L496.55 624.91L498.05 625.44L499.56 625.99L501.06 626.55L502.56 627.13L504.06 627.72L505.57 628.32L507.07 628.94L508.57 629.57L510.07 630.22L511.58 630.88L513.08 631.56L514.58 632.26L516.08 632.97L517.59 633.7L519.09 634.44L520.59 635.2L522.09 635.98L523.6 636.78L525.1 637.6L526.6 638.44L528.1 639.3L529.61 640.17L531.11 641.07L532.61 641.99L534.11 642.93L535.61 643.89L537.12 644.88L538.62 645.89L540.12 646.92L541.62 647.98L543.13 649.06L544.63 650.17L546.13 651.3L547.63 652.46L549.14 653.64L550.64 654.86L552.14 656.1L553.64 657.37L555.15 658.67L556.65 660L558.15 661.37L559.65 662.76L561.16 664.19L562.66 665.65L564.16 667.14L565.66 668.67L567.17 670.23L568.67 671.83L570.17 673.46L571.67 675.13L573.17 676.85L574.68 678.6L576.18 680.39L577.68 682.22L579.18 684.09L580.69 686.01L582.19 687.97L583.69 689.98L585.19 692.03L586.7 694.12L588.2 696.27L589.7 698.46L591.2 700.7L592.71 703L594.21 705.34L595.71 707.74L597.21 710.19L598.72 712.7L600.22 715.26L601.72 717.88L603.22 720.56L604.73 723.29L606.23 726.09L607.73 728.95L609.23 731.87L610.74 734.86L612.24 737.91L613.74 741.03L615.24 744.22L616.74 747.48L618.25 750.81L619.75 754.21L621.25 757.68L622.75 761.23L624.26 764.85L625.76 768.56L627.26 772.34L628.76 776.2L630.27 780.14L631.77 784.17L633.27 788.28L634.77 792.48L636.28 796.77L637.78 801.15L639.28 805.61L640.78 810.17L642.29 814.82L643.79 819.57L645.29 824.42L646.79 829.36L648.3 834.41L649.8 839.55L651.3 844.8L652.8 850.16L654.3 855.62L655.81 861.18L657.31 866.86L658.81 872.65L660.31 878.55L661.82 884.56L663.32 890.69L664.82 896.94L666.32 903.31L667.83 909.79L669.33 916.4L670.83 923.12L672.33 929.98L673.84 936.95L675.34 944.06L676.84 951.29L678.34 958.65L679.85 966.14L681.35 973.77L682.85 981.52L684.35 989.41L685.86 997.43L687.36 1005.59L688.86 1013.88L690.36 1022.31" fill="none" stroke="#FF5555" stroke-width="3.3" stroke-linecap="square" stroke-linejoin="round"/>
<path d="M73.8 579.5L828.8 579.5M73.8 1046L828.8 1046M74.1 579.2L74.1 1046.3M828.5 579.2L828.5 1046.3M89.4 1046L89.4 1037.4M89.4 579.5L89.4 588.1M118.36 1046L118.36 1040.8M118.36 579.5L118.36 584.7M147.32 1046L147.32 1040.8M147.32 579.5L147.32 584.7M176.28 1046L176.28 1040.8M176.28 579.5L176.28 584.7M205.24 1046L205.24 1040.8M205.24 579.5L205.24 584.7M234.2 1046L234.2 1037.4M234.2 579.5L234.2 588.1M263.16 1046L263.16 1040.8M263.16 579.5L263.16 584.7M292.12 1046L292.12 1040.8M292.12 579.5L292.12 584.7M321.08 1046L321.08 1040.8M321.08 579.5L321.08 584.7M350.04 1046L350.04 1040.8M350.04 579.5L350.04 584.7M379 1046L379 1037.4M379 579.5L379 588.1M407.96 1046L407.96 1040.8M407.96 579.5L407.96 584.7M436.92 1046L436.92 1040.8M436.92 579.5L436.92 584.7M465.88 1046L465.88 1040.8M465.88 579.5L465.88 584.7M494.84 1046L494.84 1040.8M494.84 579.5L494.84 584.7M523.8 1046L523.8 1037.4M523.8 579.5L523.8 588.1M552.76 1046L552.76 1040.8M552.76 579.5L552.76 584.7M581.72 1046L581.72 1040.8M581.72 579.5L581.72 584.7M610.68 1046L610.68 1040.8M610.68 579.5L610.68 584.7M639.64 1046L639.64 1040.8M639.64 579.5L639.64 584.7M668.6 1046L668.6 1037.4M668.6 579.5L668.6 588.1M697.56 1046L697.56 1040.8M697.56 579.5L697.56 584.7M726.52 1046L726.52 1040.8M726.52 579.5L726.52 584.7M755.48 1046L755.48 1040.8M755.48 579.5L755.48 584.7M784.44 1046L784.44 1040.8M784.44 579.5L784.44 584.7M813.4 1046L813.4 1037.4M813.4 579.5L813.4 588.1M74.1 1044.57L79.3 1044.57M828.5 1044.57L823.3 1044.57M74.1 1029.33L82.7 1029.33M828.5 1029.33L819.9 1029.33M74.1 1014.08L79.3 1014.08M828.5 1014.08L823.3 1014.08M74.1 998.84L79.3 998.84M828.5 998.84L823.3 998.84M74.1 983.6L79.3 983.6M828.5 983.6L823.3 983.6M74.1 968.36L82.7 968.36M828.5 968.36L819.9 968.36M74.1 953.12L79.3 953.12M828.5 953.12L823.3 953.12M74.1 937.87L79.3 937.87M828.5 937.87L823.3 937.87M74.1 922.63L79.3 922.63M828.5 922.63L823.3 922.63M74.1 907.39L82.7 907.39M828.5 907.39L819.9 907.39M74.1 892.15L79.3 892.15M828.5 892.15L823.3 892.15M74.1 876.91L79.3 876.91M828.5 876.91L823.3 876.91M74.1 861.66L79.3 861.66M828.5 861.66L823.3 861.66M74.1 846.42L82.7 846.42M828.5 846.42L819.9 846.42M74.1 831.18L79.3 831.18M828.5 831.18L823.3 831.18M74.1 815.94L79.3 815.94M828.5 815.94L823.3 815.94M74.1 800.7L79.3 800.7M828.5 800.7L823.3 800.7M74.1 785.45L82.7 785.45M828.5 785.45L819.9 785.45M74.1 770.21L79.3 770.21M828.5 770.21L823.3 770.21M74.1 754.97L79.3 754.97M828.5 754.97L823.3 754.97M74.1 739.73L79.3 739.73M828.5 739.73L823.3 739.73M74.1 724.49L82.7 724.49M828.5 724.49L819.9 724.49M74.1 709.24L79.3 709.24M828.5 709.24L823.3 709.24M74.1 694L79.3 694M828.5 694L823.3 694M74.1 678.76L79.3 678.76M828.5 678.76L823.3 678.76M74.1 663.52L82.7 663.52M828.5 663.52L819.9 663.52M74.1 648.28L79.3 648.28M828.5 648.28L823.3 648.28M74.1 633.03L79.3 633.03M828.5 633.03L823.3 633.03M74.1 617.79L79.3 617.79M828.5 617.79L823.3 617.79M74.1 602.55L82.7 602.55M828.5 602.55L819.9 602.55M74.1 587.31L79.3 587.31M828.5 587.31L823.3 587.31" fill="none" stroke="#111111" stroke-width="0.6"/>
<text x="67.6" y="1035.73" font-size="17.9" text-anchor="end">0.36</text>
<text x="67.6" y="974.76" font-size="17.9" text-anchor="end">0.38</text>
<text x="67.6" y="913.79" font-size="17.9" text-anchor="end">0.40</text>
<text x="67.6" y="852.82" font-size="17.9" text-anchor="end">0.42</text>
<text x="67.6" y="791.85" font-size="17.9" text-anchor="end">0.44</text>
<text x="67.6" y="730.89" font-size="17.9" text-anchor="end">0.46</text>
<text x="67.6" y="669.92" font-size="17.9" text-anchor="end">0.48</text>
<text x="67.6" y="608.95" font-size="17.9" text-anchor="end">0.50</text>
<text x="88.9" y="1068.4" font-size="17.9" text-anchor="middle">3</text>
<text x="233.7" y="1068.4" font-size="17.9" text-anchor="middle">4</text>
<text x="378.5" y="1068.4" font-size="17.9" text-anchor="middle">5</text>
<text x="523.3" y="1068.4" font-size="17.9" text-anchor="middle">6</text>
<text x="668.1" y="1068.4" font-size="17.9" text-anchor="middle">7</text>
<text x="812.9" y="1068.4" font-size="17.9" text-anchor="middle">8</text>
<text x="415.5" y="1102.3" font-size="17.9">Log<tspan font-size="12.7" dy="6.7">10</tspan><tspan dy="-6.7">(M)</tspan></text>
<text transform="translate(15.9 826.75) rotate(-90)" font-size="17.9"><tspan font-style="italic">P</tspan><tspan font-size="12.7" dy="2.7">err</tspan></text>
<text x="132.1" y="656.1" font-size="23.0"><tspan font-style="italic">T</tspan> = 0.01</text>
<text x="225.9" y="656.1" font-size="23.0">K</text>
<text x="132.1" y="694.9" font-size="23.0" font-style="italic">n</text>
<path d="M131.3 677.35H145.9" stroke="#000" stroke-width="1.4" fill="none"/>
<text x="145.8" y="699.1" font-size="16.3" font-style="italic">T</text>
<text x="167.6" y="695.2" font-size="23.0">=</text>
<text x="190.3" y="694.9" font-size="23.0">8.3</text>
<text x="223.27" y="694.9" font-size="23.0">×</text>
<text x="237.5" y="694.9" font-size="23.0">10</text>
<text x="264.6" y="685.4" font-size="16.3">−3</text>
</g>
<g>
<path d="M97.5 1179.71L99.19 1179.71L100.87 1179.71L102.56 1179.71L104.25 1179.71L105.93 1179.71L107.62 1179.71L109.3 1179.71L110.99 1179.71L112.68 1179.71L114.36 1179.71L116.05 1179.71L117.74 1179.71L119.42 1179.71L121.11 1179.71L122.8 1179.71L124.48 1179.71L126.17 1179.71L127.85 1179.71L129.54 1179.71L131.23 1179.71L132.91 1179.72L134.6 1179.72L136.29 1179.72L137.97 1179.72L139.66 1179.72L141.35 1179.72L143.03 1179.72L144.72 1179.72L146.4 1179.72L148.09 1179.72L149.78 1179.72L151.46 1179.72L153.15 1179.72L154.84 1179.72L156.52 1179.72L158.21 1179.72L159.9 1179.72L161.58 1179.72L163.27 1179.73L164.95 1179.73L166.64 1179.73L168.33 1179.73L170.01 1179.73L171.7 1179.73L173.39 1179.73L175.07 1179.73L176.76 1179.73L178.44 1179.73L180.13 1179.73L181.82 1179.73L183.5 1179.73L185.19 1179.74L186.88 1179.74L188.56 1179.74L190.25 1179.74L191.94 1179.74L193.62 1179.74L195.31 1179.74L196.99 1179.74L198.68 1179.74L200.37 1179.75L202.05 1179.75L203.74 1179.75L205.43 1179.75L207.11 1179.75L208.8 1179.75L210.49 1179.75L212.17 1179.76L213.86 1179.76L215.54 1179.76L217.23 1179.76L218.92 1179.76L220.6 1179.76L222.29 1179.76L223.98 1179.77L225.66 1179.77L227.35 1179.77L229.04 1179.77L230.72 1179.77L232.41 1179.78L234.09 1179.78L235.78 1179.78L237.47 1179.78L239.15 1179.79L240.84 1179.79L242.53 1179.79L244.21 1179.79L245.9 1179.79L247.59 1179.8L249.27 1179.8L250.96 1179.8L252.64 1179.81L254.33 1179.81L256.02 1179.81L257.7 1179.81L259.39 1179.82L261.08 1179.82L262.76 1179.82L264.45 1179.83L266.14 1179.83L267.82 1179.84L269.51 1179.84L271.19 1179.84L272.88 1179.85L274.57 1179.85L276.25 1179.85L277.94 1179.86L279.63 1179.86L281.31 1179.87L283 1179.87L284.69 1179.88L286.37 1179.88L288.06 1179.89L289.74 1179.89L291.43 1179.9L293.12 1179.9L294.8 1179.91L296.49 1179.91L298.18 1179.92L299.86 1179.93L301.55 1179.93L303.24 1179.94L304.92 1179.95L306.61 1179.95L308.29 1179.96L309.98 1179.97L311.67 1179.97L313.35 1179.98L315.04 1179.99L316.73 1180L318.41 1180.01L320.1 1180.01L321.79 1180.02L323.47 1180.03L325.16 1180.04L326.84 1180.05L328.53 1180.06L330.22 1180.07L331.9 1180.08L333.59 1180.09L335.28 1180.1L336.96 1180.11L338.65 1180.12L340.33 1180.14L342.02 1180.15L343.71 1180.16L345.39 1180.17L347.08 1180.19L348.77 1180.2L350.45 1180.21L352.14 1180.23L353.83 1180.24L355.51 1180.26L357.2 1180.27L358.88 1180.29L360.57 1180.3L362.26 1180.32L363.94 1180.34L365.63 1180.35L367.32 1180.37L369 1180.39L370.69 1180.41L372.38 1180.43L374.06 1180.45L375.75 1180.47L377.43 1180.49L379.12 1180.51L380.81 1180.54L382.49 1180.56L384.18 1180.58L385.87 1180.61L387.55 1180.63L389.24 1180.66L390.93 1180.68L392.61 1180.71L394.3 1180.74L395.98 1180.77L397.67 1180.8L399.36 1180.83L401.04 1180.86L402.73 1180.89L404.42 1180.92L406.1 1180.96L407.79 1180.99L409.48 1181.03L411.16 1181.06L412.85 1181.1L414.53 1181.14L416.22 1181.18L417.91 1181.22L419.59 1181.26L421.28 1181.31L422.97 1181.35L424.65 1181.39L426.34 1181.44L428.03 1181.49L429.71 1181.54L431.4 1181.59L433.08 1181.64L434.77 1181.7L436.46 1181.75L438.14 1181.81L439.83 1181.86L441.52 1181.92L443.2 1181.99L444.89 1182.05L446.58 1182.11L448.26 1182.18L449.95 1182.25L451.63 1182.32L453.32 1182.39L455.01 1182.46L456.69 1182.54L458.38 1182.62L460.07 1182.7L461.75 1182.78L463.44 1182.87L465.13 1182.95L466.81 1183.04L468.5 1183.14L470.18 1183.23L471.87 1183.33L473.56 1183.43L475.24 1183.53L476.93 1183.64L478.62 1183.74L480.3 1183.86L481.99 1183.97L483.67 1184.09L485.36 1184.21L487.05 1184.33L488.73 1184.46L490.42 1184.59L492.11 1184.73L493.79 1184.86L495.48 1185.01L497.17 1185.15L498.85 1185.3L500.54 1185.46L502.22 1185.61L503.91 1185.78L505.6 1185.94L507.28 1186.12L508.97 1186.29L510.66 1186.47L512.34 1186.66L514.03 1186.85L515.72 1187.05L517.4 1187.25L519.09 1187.46L520.77 1187.67L522.46 1187.89L524.15 1188.12L525.83 1188.35L527.52 1188.59L529.21 1188.83L530.89 1189.08L532.58 1189.34L534.27 1189.61L535.95 1189.88L537.64 1190.16L539.32 1190.45L541.01 1190.74L542.7 1191.05L544.38 1191.36L546.07 1191.68L547.76 1192.01L549.44 1192.34L551.13 1192.69L552.82 1193.05L554.5 1193.42L556.19 1193.79L557.87 1194.18L559.56 1194.58L561.25 1194.99L562.93 1195.41L564.62 1195.84L566.31 1196.28L567.99 1196.74L569.68 1197.2L571.37 1197.68L573.05 1198.18L574.74 1198.69L576.42 1199.21L578.11 1199.74L579.8 1200.29L581.48 1200.86L583.17 1201.44L584.86 1202.03L586.54 1202.64L588.23 1203.27L589.92 1203.92L591.6 1204.58L593.29 1205.27L594.97 1205.97L596.66 1206.69L598.35 1207.42L600.03 1208.18L601.72 1208.96L603.41 1209.76L605.09 1210.59L606.78 1211.43L608.47 1212.3L610.15 1213.19L611.84 1214.11L613.52 1215.05L615.21 1216.01L616.9 1217.01L618.58 1218.03L620.27 1219.07L621.96 1220.15L623.64 1221.25L625.33 1222.39L627.02 1223.55L628.7 1224.75L630.39 1225.98L632.07 1227.24L633.76 1228.53L635.45 1229.86L637.13 1231.23L638.82 1232.63L640.51 1234.07L642.19 1235.55L643.88 1237.07L645.56 1238.63L647.25 1240.23L648.94 1241.88L650.62 1243.57L652.31 1245.3L654 1247.08L655.68 1248.91L657.37 1250.78L659.06 1252.71L660.74 1254.69L662.43 1256.71L664.11 1258.8L665.8 1260.94L667.49 1263.13L669.17 1265.39L670.86 1267.7L672.55 1270.07L674.23 1272.51L675.92 1275.01L677.61 1277.58L679.29 1280.21L680.98 1282.92L682.66 1285.69L684.35 1288.54L686.04 1291.46L687.72 1294.46L689.41 1297.54L691.1 1300.69L692.78 1303.93L694.47 1307.25L696.16 1310.66L697.84 1314.15L699.53 1317.74L701.21 1321.42L702.9 1325.19L704.59 1329.06L706.27 1333.03L707.96 1337.1L709.65 1341.27L711.33 1345.55L713.02 1349.94L714.71 1354.43L716.39 1359.05L718.08 1363.77L719.76 1368.62L721.45 1373.59L723.14 1378.68L724.82 1383.9L726.51 1389.24L728.2 1394.72L729.88 1400.34L731.57 1406.09L733.26 1411.99L734.94 1418.02L736.63 1424.21L738.31 1430.54L740 1437.03L741.69 1443.67L743.37 1450.48L745.06 1457.44L746.75 1464.57L748.43 1471.87L750.12 1479.34L751.81 1486.98L753.49 1494.81L755.18 1502.81L756.86 1511L758.55 1519.38L760.24 1527.95L761.92 1536.71L763.61 1545.67L765.3 1554.83L766.98 1564.19L768.67 1573.77L770.36 1583.55L772.04 1593.55" fill="none" stroke="#FFAA55" stroke-width="3.3" stroke-linecap="square" stroke-linejoin="round"/>
<path d="M97.5 1179.71L99.19 1179.71L100.87 1179.71L102.56 1179.71L104.25 1179.71L105.93 1179.71L107.62 1179.71L109.3 1179.71L110.99 1179.71L112.68 1179.71L114.36 1179.71L116.05 1179.71L117.74 1179.71L119.42 1179.71L121.11 1179.71L122.8 1179.71L124.48 1179.71L126.17 1179.71L127.85 1179.71L129.54 1179.71L131.23 1179.71L132.91 1179.72L134.6 1179.72L136.29 1179.72L137.97 1179.72L139.66 1179.72L141.35 1179.72L143.03 1179.72L144.72 1179.72L146.4 1179.72L148.09 1179.72L149.78 1179.72L151.46 1179.72L153.15 1179.72L154.84 1179.72L156.52 1179.72L158.21 1179.72L159.9 1179.72L161.58 1179.72L163.27 1179.73L164.95 1179.73L166.64 1179.73L168.33 1179.73L170.01 1179.73L171.7 1179.73L173.39 1179.73L175.07 1179.73L176.76 1179.73L178.44 1179.73L180.13 1179.73L181.82 1179.73L183.5 1179.73L185.19 1179.74L186.88 1179.74L188.56 1179.74L190.25 1179.74L191.94 1179.74L193.62 1179.74L195.31 1179.74L196.99 1179.74L198.68 1179.74L200.37 1179.75L202.05 1179.75L203.74 1179.75L205.43 1179.75L207.11 1179.75L208.8 1179.75L210.49 1179.75L212.17 1179.76L213.86 1179.76L215.54 1179.76L217.23 1179.76L218.92 1179.76L220.6 1179.76L222.29 1179.76L223.98 1179.77L225.66 1179.77L227.35 1179.77L229.04 1179.77L230.72 1179.77L232.41 1179.78L234.09 1179.78L235.78 1179.78L237.47 1179.78L239.15 1179.79L240.84 1179.79L242.53 1179.79L244.21 1179.79L245.9 1179.79L247.59 1179.8L249.27 1179.8L250.96 1179.8L252.64 1179.81L254.33 1179.81L256.02 1179.81L257.7 1179.81L259.39 1179.82L261.08 1179.82L262.76 1179.82L264.45 1179.83L266.14 1179.83L267.82 1179.84L269.51 1179.84L271.19 1179.84L272.88 1179.85L274.57 1179.85L276.25 1179.85L277.94 1179.86L279.63 1179.86L281.31 1179.87L283 1179.87L284.69 1179.88L286.37 1179.88L288.06 1179.89L289.74 1179.89L291.43 1179.9L293.12 1179.9L294.8 1179.91L296.49 1179.91L298.18 1179.92L299.86 1179.93L301.55 1179.93L303.24 1179.94L304.92 1179.95L306.61 1179.95L308.29 1179.96L309.98 1179.97L311.67 1179.97L313.35 1179.98L315.04 1179.99L316.73 1180L318.41 1180.01L320.1 1180.01L321.79 1180.02L323.47 1180.03L325.16 1180.04L326.84 1180.05L328.53 1180.06L330.22 1180.07L331.9 1180.08L333.59 1180.09L335.28 1180.1L336.96 1180.11L338.65 1180.12L340.33 1180.14L342.02 1180.15L343.71 1180.16L345.39 1180.17L347.08 1180.19L348.77 1180.2L350.45 1180.21L352.14 1180.23L353.83 1180.24L355.51 1180.26L357.2 1180.27L358.88 1180.29L360.57 1180.3L362.26 1180.32L363.94 1180.34L365.63 1180.35L367.32 1180.37L369 1180.39L370.69 1180.41L372.38 1180.43L374.06 1180.45L375.75 1180.47L377.43 1180.49L379.12 1180.51L380.81 1180.54L382.49 1180.56L384.18 1180.58L385.87 1180.61L387.55 1180.63L389.24 1180.66L390.93 1180.68L392.61 1180.71L394.3 1180.74L395.98 1180.77L397.67 1180.8L399.36 1180.83L401.04 1180.86L402.73 1180.89L404.42 1180.92L406.1 1180.96L407.79 1180.99L409.48 1181.03L411.16 1181.06L412.85 1181.1L414.53 1181.14L416.22 1181.18L417.91 1181.22L419.59 1181.26L421.28 1181.31L422.97 1181.35L424.65 1181.39L426.34 1181.44L428.03 1181.49L429.71 1181.54L431.4 1181.59L433.08 1181.64L434.77 1181.7L436.46 1181.75L438.14 1181.81L439.83 1181.86L441.52 1181.92L443.2 1181.99L444.89 1182.05L446.58 1182.11L448.26 1182.18L449.95 1182.25L451.63 1182.32L453.32 1182.39L455.01 1182.46L456.69 1182.54L458.38 1182.62L460.07 1182.7L461.75 1182.78L463.44 1182.87L465.13 1182.95L466.81 1183.04L468.5 1183.14L470.18 1183.23L471.87 1183.33L473.56 1183.43L475.24 1183.53L476.93 1183.64L478.62 1183.74L480.3 1183.86L481.99 1183.97L483.67 1184.09L485.36 1184.21L487.05 1184.33L488.73 1184.46L490.42 1184.59L492.11 1184.73L493.79 1184.86L495.48 1185.01L497.17 1185.15L498.85 1185.3L500.54 1185.46L502.22 1185.61L503.91 1185.78L505.6 1185.94L507.28 1186.12L508.97 1186.29L510.66 1186.47L512.34 1186.66L514.03 1186.85L515.72 1187.05L517.4 1187.25L519.09 1187.46L520.77 1187.67L522.46 1187.89L524.15 1188.12L525.83 1188.35L527.52 1188.59L529.21 1188.83L530.89 1189.08L532.58 1189.34L534.27 1189.61L535.95 1189.88L537.64 1190.16L539.32 1190.45L541.01 1190.74L542.7 1191.05L544.38 1191.36L546.07 1191.68L547.76 1192.01L549.44 1192.34L551.13 1192.69L552.82 1193.05L554.5 1193.42L556.19 1193.79L557.87 1194.18L559.56 1194.58L561.25 1194.99L562.93 1195.41L564.62 1195.84L566.31 1196.28L567.99 1196.74L569.68 1197.2L571.37 1197.68L573.05 1198.18L574.74 1198.69L576.42 1199.21L578.11 1199.74L579.8 1200.29L581.48 1200.86L583.17 1201.44L584.86 1202.03L586.54 1202.64L588.23 1203.27L589.92 1203.92L591.6 1204.58L593.29 1205.27L594.97 1205.97L596.66 1206.69L598.35 1207.42L600.03 1208.18L601.72 1208.96L603.41 1209.76L605.09 1210.59L606.78 1211.43L608.47 1212.3L610.15 1213.19L611.84 1214.11L613.52 1215.05L615.21 1216.01L616.9 1217.01L618.58 1218.03L620.27 1219.07L621.96 1220.15L623.64 1221.25L625.33 1222.39L627.02 1223.55L628.7 1224.75L630.39 1225.98L632.07 1227.24L633.76 1228.53L635.45 1229.86L637.13 1231.23L638.82 1232.63L640.51 1234.07L642.19 1235.55L643.88 1237.07L645.56 1238.63L647.25 1240.23L648.94 1241.88L650.62 1243.57L652.31 1245.3L654 1247.08L655.68 1248.91L657.37 1250.78L659.06 1252.71L660.74 1254.69L662.43 1256.71L664.11 1258.8L665.8 1260.94L667.49 1263.13L669.17 1265.39L670.86 1267.7L672.55 1270.07L674.23 1272.51L675.92 1275.01L677.61 1277.58L679.29 1280.21L680.98 1282.92L682.66 1285.69L684.35 1288.54L686.04 1291.46L687.72 1294.46L689.41 1297.54L691.1 1300.69L692.78 1303.93L694.47 1307.25L696.16 1310.66L697.84 1314.15L699.53 1317.74L701.21 1321.42L702.9 1325.19L704.59 1329.06L706.27 1333.03L707.96 1337.1L709.65 1341.27L711.33 1345.55L713.02 1349.94L714.71 1354.43L716.39 1359.05L718.08 1363.77L719.76 1368.62L721.45 1373.59L723.14 1378.68L724.82 1383.9L726.51 1389.24L728.2 1394.72L729.88 1400.34L731.57 1406.09L733.26 1411.99L734.94 1418.02L736.63 1424.21L738.31 1430.54L740 1437.03L741.69 1443.67L743.37 1450.48L745.06 1457.44L746.75 1464.57L748.43 1471.87L750.12 1479.34L751.81 1486.98L753.49 1494.81L755.18 1502.81L756.86 1511L758.55 1519.38L760.24 1527.95L761.92 1536.71L763.61 1545.67L765.3 1554.83L766.98 1564.19L768.67 1573.77L770.36 1583.55L772.04 1593.55" fill="none" stroke="#800080" stroke-width="3.3" stroke-linecap="square" stroke-linejoin="round" stroke-dasharray="7.92 7.925" stroke-dashoffset="0.5"/>
<path d="M97.5 1179.73L99 1179.73L100.5 1179.73L102 1179.73L103.51 1179.73L105.01 1179.73L106.51 1179.73L108.01 1179.73L109.51 1179.73L111.01 1179.74L112.52 1179.74L114.02 1179.74L115.52 1179.74L117.02 1179.74L118.52 1179.74L120.02 1179.74L121.53 1179.74L123.03 1179.74L124.53 1179.74L126.03 1179.75L127.53 1179.75L129.03 1179.75L130.54 1179.75L132.04 1179.75L133.54 1179.75L135.04 1179.75L136.54 1179.75L138.04 1179.75L139.55 1179.76L141.05 1179.76L142.55 1179.76L144.05 1179.76L145.55 1179.76L147.05 1179.76L148.56 1179.77L150.06 1179.77L151.56 1179.77L153.06 1179.77L154.56 1179.77L156.06 1179.77L157.57 1179.78L159.07 1179.78L160.57 1179.78L162.07 1179.78L163.57 1179.78L165.07 1179.78L166.58 1179.79L168.08 1179.79L169.58 1179.79L171.08 1179.79L172.58 1179.8L174.08 1179.8L175.59 1179.8L177.09 1179.8L178.59 1179.81L180.09 1179.81L181.59 1179.81L183.09 1179.81L184.6 1179.82L186.1 1179.82L187.6 1179.82L189.1 1179.83L190.6 1179.83L192.1 1179.83L193.61 1179.83L195.11 1179.84L196.61 1179.84L198.11 1179.84L199.61 1179.85L201.11 1179.85L202.62 1179.86L204.12 1179.86L205.62 1179.86L207.12 1179.87L208.62 1179.87L210.12 1179.88L211.62 1179.88L213.13 1179.88L214.63 1179.89L216.13 1179.89L217.63 1179.9L219.13 1179.9L220.63 1179.91L222.14 1179.91L223.64 1179.92L225.14 1179.92L226.64 1179.93L228.14 1179.93L229.64 1179.94L231.15 1179.95L232.65 1179.95L234.15 1179.96L235.65 1179.96L237.15 1179.97L238.65 1179.98L240.16 1179.98L241.66 1179.99L243.16 1180L244.66 1180.01L246.16 1180.01L247.66 1180.02L249.17 1180.03L250.67 1180.04L252.17 1180.05L253.67 1180.05L255.17 1180.06L256.67 1180.07L258.18 1180.08L259.68 1180.09L261.18 1180.1L262.68 1180.11L264.18 1180.12L265.68 1180.13L267.19 1180.14L268.69 1180.15L270.19 1180.16L271.69 1180.17L273.19 1180.19L274.69 1180.2L276.2 1180.21L277.7 1180.22L279.2 1180.23L280.7 1180.25L282.2 1180.26L283.7 1180.27L285.21 1180.29L286.71 1180.3L288.21 1180.32L289.71 1180.33L291.21 1180.35L292.71 1180.36L294.22 1180.38L295.72 1180.4L297.22 1180.41L298.72 1180.43L300.22 1180.45L301.72 1180.47L303.23 1180.49L304.73 1180.51L306.23 1180.53L307.73 1180.55L309.23 1180.57L310.73 1180.59L312.24 1180.61L313.74 1180.63L315.24 1180.66L316.74 1180.68L318.24 1180.7L319.74 1180.73L321.24 1180.75L322.75 1180.78L324.25 1180.81L325.75 1180.83L327.25 1180.86L328.75 1180.89L330.25 1180.92L331.76 1180.95L333.26 1180.98L334.76 1181.01L336.26 1181.04L337.76 1181.07L339.26 1181.11L340.77 1181.14L342.27 1181.18L343.77 1181.21L345.27 1181.25L346.77 1181.29L348.27 1181.33L349.78 1181.37L351.28 1181.41L352.78 1181.45L354.28 1181.49L355.78 1181.54L357.28 1181.58L358.79 1181.63L360.29 1181.68L361.79 1181.72L363.29 1181.77L364.79 1181.82L366.29 1181.88L367.8 1181.93L369.3 1181.98L370.8 1182.04L372.3 1182.1L373.8 1182.16L375.3 1182.22L376.81 1182.28L378.31 1182.34L379.81 1182.41L381.31 1182.47L382.81 1182.54L384.31 1182.61L385.82 1182.68L387.32 1182.75L388.82 1182.83L390.32 1182.91L391.82 1182.98L393.32 1183.06L394.83 1183.15L396.33 1183.23L397.83 1183.32L399.33 1183.41L400.83 1183.5L402.33 1183.59L403.84 1183.69L405.34 1183.78L406.84 1183.88L408.34 1183.99L409.84 1184.09L411.34 1184.2L412.85 1184.31L414.35 1184.42L415.85 1184.54L417.35 1184.66L418.85 1184.78L420.35 1184.9L421.86 1185.03L423.36 1185.16L424.86 1185.29L426.36 1185.43L427.86 1185.57L429.36 1185.71L430.86 1185.86L432.37 1186.01L433.87 1186.17L435.37 1186.32L436.87 1186.49L438.37 1186.65L439.87 1186.82L441.38 1187L442.88 1187.17L444.38 1187.36L445.88 1187.54L447.38 1187.74L448.88 1187.93L450.39 1188.13L451.89 1188.34L453.39 1188.55L454.89 1188.77L456.39 1188.99L457.89 1189.22L459.4 1189.45L460.9 1189.69L462.4 1189.93L463.9 1190.18L465.4 1190.44L466.9 1190.7L468.41 1190.97L469.91 1191.25L471.41 1191.53L472.91 1191.82L474.41 1192.11L475.91 1192.42L477.42 1192.73L478.92 1193.05L480.42 1193.37L481.92 1193.71L483.42 1194.05L484.92 1194.4L486.43 1194.76L487.93 1195.13L489.43 1195.5L490.93 1195.89L492.43 1196.28L493.93 1196.69L495.44 1197.1L496.94 1197.53L498.44 1197.96L499.94 1198.41L501.44 1198.87L502.94 1199.33L504.45 1199.81L505.95 1200.3L507.45 1200.8L508.95 1201.32L510.45 1201.85L511.95 1202.39L513.46 1202.94L514.96 1203.51L516.46 1204.09L517.96 1204.68L519.46 1205.29L520.96 1205.91L522.47 1206.55L523.97 1207.2L525.47 1207.87L526.97 1208.56L528.47 1209.26L529.97 1209.98L531.48 1210.72L532.98 1211.47L534.48 1212.25L535.98 1213.04L537.48 1213.85L538.98 1214.68L540.48 1215.53L541.99 1216.4L543.49 1217.29L544.99 1218.2L546.49 1219.14L547.99 1220.1L549.49 1221.08L551 1222.08L552.5 1223.11L554 1224.16L555.5 1225.24L557 1226.35L558.5 1227.48L560.01 1228.63L561.51 1229.82L563.01 1231.03L564.51 1232.28L566.01 1233.55L567.51 1234.85L569.02 1236.18L570.52 1237.55L572.02 1238.95L573.52 1240.38L575.02 1241.85L576.52 1243.35L578.03 1244.88L579.53 1246.46L581.03 1248.07L582.53 1249.71L584.03 1251.4L585.53 1253.13L587.04 1254.9L588.54 1256.71L590.04 1258.56L591.54 1260.46L593.04 1262.4L594.54 1264.38L596.05 1266.42L597.55 1268.5L599.05 1270.63L600.55 1272.81L602.05 1275.04L603.55 1277.32L605.06 1279.66L606.56 1282.05L608.06 1284.5L609.56 1287L611.06 1289.56L612.56 1292.18L614.07 1294.87L615.57 1297.61L617.07 1300.42L618.57 1303.29L620.07 1306.23L621.57 1309.24L623.08 1312.31L624.58 1315.46L626.08 1318.68L627.58 1321.97L629.08 1325.34L630.58 1328.78L632.09 1332.3L633.59 1335.9L635.09 1339.59L636.59 1343.36L638.09 1347.21L639.59 1351.15L641.1 1355.17L642.6 1359.29L644.1 1363.5L645.6 1367.8L647.1 1372.2L648.6 1376.7L650.11 1381.3L651.61 1386L653.11 1390.8L654.61 1395.7L656.11 1400.72L657.61 1405.84L659.11 1411.08L660.62 1416.43L662.12 1421.89L663.62 1427.48L665.12 1433.18L666.62 1439.01L668.12 1444.96L669.63 1451.03L671.13 1457.24L672.63 1463.58L674.13 1470.05L675.63 1476.65L677.13 1483.39L678.64 1490.28L680.14 1497.3L681.64 1504.47L683.14 1511.79L684.64 1519.26L686.14 1526.87L687.65 1534.65L689.15 1542.57L690.65 1550.66L692.15 1558.91L693.65 1567.32L695.15 1575.89L696.66 1584.63L698.16 1593.55" fill="none" stroke="#FF5555" stroke-width="3.3" stroke-linecap="square" stroke-linejoin="round"/>
<path d="M82.25 1156.75L826.7 1156.75M82.25 1616.5L826.7 1616.5M82.55 1156.45L82.55 1616.8M826.4 1156.45L826.4 1616.8M97.5 1616.5L97.5 1607.9M97.5 1156.75L97.5 1165.35M126.06 1616.5L126.06 1611.3M126.06 1156.75L126.06 1161.95M154.62 1616.5L154.62 1611.3M154.62 1156.75L154.62 1161.95M183.18 1616.5L183.18 1611.3M183.18 1156.75L183.18 1161.95M211.74 1616.5L211.74 1611.3M211.74 1156.75L211.74 1161.95M240.3 1616.5L240.3 1607.9M240.3 1156.75L240.3 1165.35M268.86 1616.5L268.86 1611.3M268.86 1156.75L268.86 1161.95M297.42 1616.5L297.42 1611.3M297.42 1156.75L297.42 1161.95M325.98 1616.5L325.98 1611.3M325.98 1156.75L325.98 1161.95M354.54 1616.5L354.54 1611.3M354.54 1156.75L354.54 1161.95M383.1 1616.5L383.1 1607.9M383.1 1156.75L383.1 1165.35M411.66 1616.5L411.66 1611.3M411.66 1156.75L411.66 1161.95M440.22 1616.5L440.22 1611.3M440.22 1156.75L440.22 1161.95M468.78 1616.5L468.78 1611.3M468.78 1156.75L468.78 1161.95M497.34 1616.5L497.34 1611.3M497.34 1156.75L497.34 1161.95M525.9 1616.5L525.9 1607.9M525.9 1156.75L525.9 1165.35M554.46 1616.5L554.46 1611.3M554.46 1156.75L554.46 1161.95M583.02 1616.5L583.02 1611.3M583.02 1156.75L583.02 1161.95M611.58 1616.5L611.58 1611.3M611.58 1156.75L611.58 1161.95M640.14 1616.5L640.14 1611.3M640.14 1156.75L640.14 1161.95M668.7 1616.5L668.7 1607.9M668.7 1156.75L668.7 1165.35M697.26 1616.5L697.26 1611.3M697.26 1156.75L697.26 1161.95M725.82 1616.5L725.82 1611.3M725.82 1156.75L725.82 1161.95M754.38 1616.5L754.38 1611.3M754.38 1156.75L754.38 1161.95M782.94 1616.5L782.94 1611.3M782.94 1156.75L782.94 1161.95M811.5 1616.5L811.5 1607.9M811.5 1156.75L811.5 1165.35M82.55 1613.5L91.15 1613.5M826.4 1613.5L817.8 1613.5M82.55 1591.81L87.75 1591.81M826.4 1591.81L821.2 1591.81M82.55 1570.12L87.75 1570.12M826.4 1570.12L821.2 1570.12M82.55 1548.43L87.75 1548.43M826.4 1548.43L821.2 1548.43M82.55 1526.74L91.15 1526.74M826.4 1526.74L817.8 1526.74M82.55 1505.05L87.75 1505.05M826.4 1505.05L821.2 1505.05M82.55 1483.36L87.75 1483.36M826.4 1483.36L821.2 1483.36M82.55 1461.67L87.75 1461.67M826.4 1461.67L821.2 1461.67M82.55 1439.98L91.15 1439.98M826.4 1439.98L817.8 1439.98M82.55 1418.29L87.75 1418.29M826.4 1418.29L821.2 1418.29M82.55 1396.6L87.75 1396.6M826.4 1396.6L821.2 1396.6M82.55 1374.91L87.75 1374.91M826.4 1374.91L821.2 1374.91M82.55 1353.22L91.15 1353.22M826.4 1353.22L817.8 1353.22M82.55 1331.53L87.75 1331.53M826.4 1331.53L821.2 1331.53M82.55 1309.84L87.75 1309.84M826.4 1309.84L821.2 1309.84M82.55 1288.15L87.75 1288.15M826.4 1288.15L821.2 1288.15M82.55 1266.46L91.15 1266.46M826.4 1266.46L817.8 1266.46M82.55 1244.77L87.75 1244.77M826.4 1244.77L821.2 1244.77M82.55 1223.08L87.75 1223.08M826.4 1223.08L821.2 1223.08M82.55 1201.39L87.75 1201.39M826.4 1201.39L821.2 1201.39M82.55 1179.7L91.15 1179.7M826.4 1179.7L817.8 1179.7M82.55 1158.01L87.75 1158.01M826.4 1158.01L821.2 1158.01" fill="none" stroke="#111111" stroke-width="0.6"/>
<text x="76" y="1619.9" font-size="17.9" text-anchor="end">0.40</text>
<text x="76" y="1533.14" font-size="17.9" text-anchor="end">0.42</text>
<text x="76" y="1446.38" font-size="17.9" text-anchor="end">0.44</text>
<text x="76" y="1359.62" font-size="17.9" text-anchor="end">0.46</text>
<text x="76" y="1272.86" font-size="17.9" text-anchor="end">0.48</text>
<text x="76" y="1186.1" font-size="17.9" text-anchor="end">0.50</text>
<text x="97" y="1639.1" font-size="17.9" text-anchor="middle">3</text>
<text x="239.8" y="1639.1" font-size="17.9" text-anchor="middle">4</text>
<text x="382.6" y="1639.1" font-size="17.9" text-anchor="middle">5</text>
<text x="525.4" y="1639.1" font-size="17.9" text-anchor="middle">6</text>
<text x="668.2" y="1639.1" font-size="17.9" text-anchor="middle">7</text>
<text x="811" y="1639.1" font-size="17.9" text-anchor="middle">8</text>
<text x="419" y="1672.8" font-size="17.9">Log<tspan font-size="12.7" dy="6.7">10</tspan><tspan dy="-6.7">(M)</tspan></text>
<text transform="translate(24 1400.62) rotate(-90)" font-size="17.9"><tspan font-style="italic">P</tspan><tspan font-size="12.7" dy="2.7">err</tspan></text>
<text x="134.8" y="1234" font-size="23.0"><tspan font-style="italic">T</tspan> = 0.001</text>
<text x="241.2" y="1234" font-size="23.0">K</text>
<text x="134.9" y="1272.1" font-size="23.0" font-style="italic">n</text>
<path d="M134.1 1254.55H148.7" stroke="#000" stroke-width="1.4" fill="none"/>
<text x="148.6" y="1276.3" font-size="16.3" font-style="italic">T</text>
<text x="169.8" y="1272.4" font-size="23.0">=</text>
<text x="194.3" y="1272.1" font-size="23.0">1.4</text>
<text x="226.67" y="1272.1" font-size="23.0">×</text>
<text x="242.1" y="1272.1" font-size="23.0">10</text>
<text x="266.5" y="1262.6" font-size="16.3">−21</text>
</g>
</svg>
</body></html>
